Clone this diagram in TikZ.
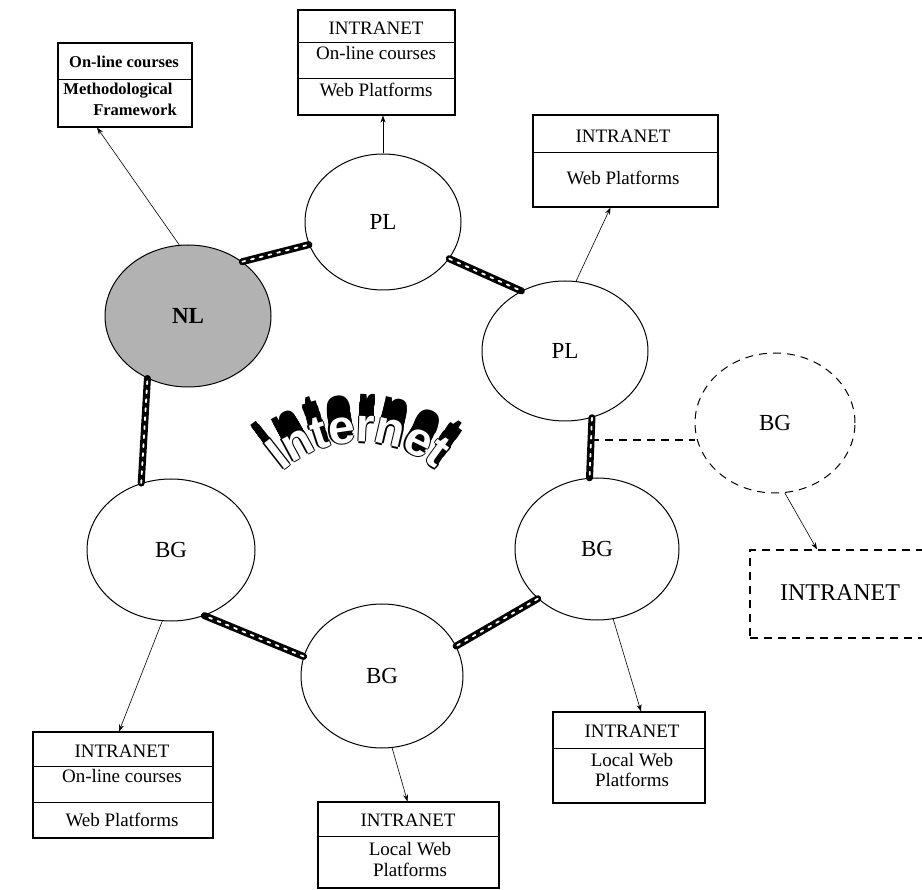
\documentclass[tikz,border=0pt]{standalone}
\usepackage{fontspec}
\setmainfont{Liberation Serif}
\newfontfamily\wafont{Liberation Sans}
\usetikzlibrary{arrows.meta,shapes.geometric,calc}
\begin{document}
\begin{tikzpicture}[x=1pt,y=-1pt,
  circ/.style={ellipse, draw, line width=1pt, inner sep=0pt, font=\fontsize{23}{25}\selectfont},
  bx/.style={draw, line width=1.1pt, rectangle, inner sep=0pt},
  divline/.style={line width=1.1pt},
  btxt/.style={font=\fontsize{19}{21}\selectfont, inner sep=0pt},
  tltxt/.style={font=\bfseries\fontsize{16.5}{18}\selectfont, inner sep=0pt},
  cable/.style={line width=7pt, black, line cap=round, postaction={draw=white, line width=1.8pt, dash pattern=on 3pt off 6pt}},
  arr/.style={line width=0.6pt, -{Stealth[length=7pt,width=5pt]}},
  dsh/.style={dash pattern=on 8pt off 6pt},
  wa/.style={font=\wafont\bfseries\fontsize{48}{48}\selectfont, inner sep=0pt, anchor=base}
]
\fill[white] (0,0) rectangle (922,890);
\useasboundingbox (0,0) rectangle (922,890);

% circles
\node[circ, minimum width=166pt, minimum height=142pt, fill=black!30] (nl) at (188,316) {\bfseries NL};
\node[circ, minimum width=156pt, minimum height=136pt] (plt) at (383,222) {PL};
\node[circ, minimum width=166pt, minimum height=140pt] (plr) at (565,351) {PL};
\node[circ, minimum width=164pt, minimum height=142pt] (bgr) at (597,549) {BG};
\node[circ, minimum width=162pt, minimum height=144pt] (bgb) at (382,676) {BG};
\node[circ, minimum width=168pt, minimum height=142pt] (bgl) at (171,550) {BG};
\node[circ, dsh, minimum width=160pt, minimum height=140pt] (bgd) at (775,423) {BG};

% boxes
\node[bx, minimum width=134pt, minimum height=84pt] (tlbox) at (125,85) {};
\draw[divline] ($(tlbox.north west)+(0,37)$) -- ($(tlbox.north east)+(0,37)$);
\node[tltxt] (tl1) at (124,62) {On-line courses};
\node[tltxt] (tl2) at (118,91) {Methodological};
\node[tltxt] (tl3) at (135,110) {Framework};

\node[bx, minimum width=157pt, minimum height=105pt] (tbox) at (376.5,62.5) {};
\draw[divline] ($(tbox.north west)+(0,33)$) -- ($(tbox.north east)+(0,33)$);
\draw[divline] ($(tbox.north west)+(0,69)$) -- ($(tbox.north east)+(0,69)$);
\node[btxt] (t1) at (376,28) {INTRANET};
\node[btxt] (t2) at (376,53) {On-line courses};
\node[btxt] (t3) at (376,90) {Web Platforms};

\node[bx, minimum width=185pt, minimum height=92pt] (trbox) at (625.5,161) {};
\draw[divline] ($(trbox.north west)+(0,38)$) -- ($(trbox.north east)+(0,38)$);
\node[btxt] (tr1) at (623,136) {INTRANET};
\node[btxt] (tr2) at (623,178) {Web Platforms};

\node[bx, minimum width=180pt, minimum height=106pt] (blbox) at (123,785) {};
\draw[divline] ($(blbox.north west)+(0,35)$) -- ($(blbox.north east)+(0,35)$);
\draw[divline] ($(blbox.north west)+(0,71)$) -- ($(blbox.north east)+(0,71)$);
\node[btxt] (bl1) at (122,751) {INTRANET};
\node[btxt] (bl2) at (122,776) {On-line courses};
\node[btxt] (bl3) at (122,820) {Web Platforms};

\node[bx, minimum width=152pt, minimum height=91pt] (brbox) at (629,757.5) {};
\draw[divline] ($(brbox.north west)+(0,37)$) -- ($(brbox.north east)+(0,37)$);
\node[btxt] (br1) at (632,731) {INTRANET};
\node[btxt] (br2) at (632,760) {Local Web};
\node[btxt] (br3) at (632,780) {Platforms};

\node[bx, minimum width=181pt, minimum height=86pt] (bbox) at (408.5,845) {};
\draw[divline] ($(bbox.north west)+(0,35)$) -- ($(bbox.north east)+(0,35)$);
\node[btxt] (b1) at (408,820) {INTRANET};
\node[btxt] (b2) at (410,849) {Local Web};
\node[btxt] (b3) at (410,870) {Platforms};

\node[bx, dsh, line width=1.2pt, minimum width=190pt, minimum height=88pt] (dbox) at (845,594) {};
\node[btxt, font=\fontsize{24}{26}\selectfont] (d1) at (840,593) {INTRANET};

% arrows
\draw[arr] (nl.97) -- ($(tlbox.south)+(-28,0)$);
\draw[arr] (plt.north) -- (plt.north |- tbox.south);
\draw[arr] (plr.81) -- ($(trbox.south)+(-15,0)$);
\draw[arr] (bgl.263) -- ($(blbox.north)+(-4,0)$);
\draw[arr] (bgb.278) -- ($(bbox.north)+(-1,0)$);
\draw[arr] (bgr.283) -- ($(brbox.north)+(12,0)$);
\draw[arr] (bgd.278) -- ($(dbox.north)+(-28,0)$);

% cables
\path (plr.292) -- coordinate[pos=0.37] (cmid) (bgr.96);
\draw[dsh, line width=1.2pt] (cmid) -- (cmid -| bgd.west);
\draw[cable] (nl.45) -- (plt.197);
\draw[cable] (plt.331) -- (plr.126);
\draw[cable] (plr.292) -- (bgr.96);
\draw[cable] (bgr.220) -- (bgb.22);
\draw[cable] (bgb.166) -- (bgl.297);
\draw[cable] (bgl.114) -- (nl.237);

% Internet word art: black extrusion, white letters
\foreach \ch/\ang [count=\i] in {I/128, n/118.3, t/107.9, e/98.1, r/87.7, n/76.7, e/63.8, t/54} {
  \pgfmathsetmacro\rot{\ang-90}
  \foreach \k in {2,4,...,22} {
    \node[wa, text=black, rotate=\rot] (sh\i-\k) at ({360+(118+\k)*cos(\ang)}, {560-(118+\k)*sin(\ang)}) {\ch};
  }
  \foreach \dx/\dy [count=\j] in {1.4/0, -1.4/0, 0/1.4, 0/-1.4} {
    \node[wa, text=black, rotate=\rot] (ol\i-\j) at ({360+118*cos(\ang)+\dx}, {560-118*sin(\ang)+\dy}) {\ch};
  }
}
\foreach \ch/\ang [count=\i] in {I/128, n/118.3, t/107.9, e/98.1, r/87.7, n/76.7, e/63.8, t/54} {
  \pgfmathsetmacro\rot{\ang-90}
  \node[wa, text=white, rotate=\rot] (wl\i) at ({360+118*cos(\ang)}, {560-118*sin(\ang)}) {\ch};
}
\end{tikzpicture}
\end{document}
